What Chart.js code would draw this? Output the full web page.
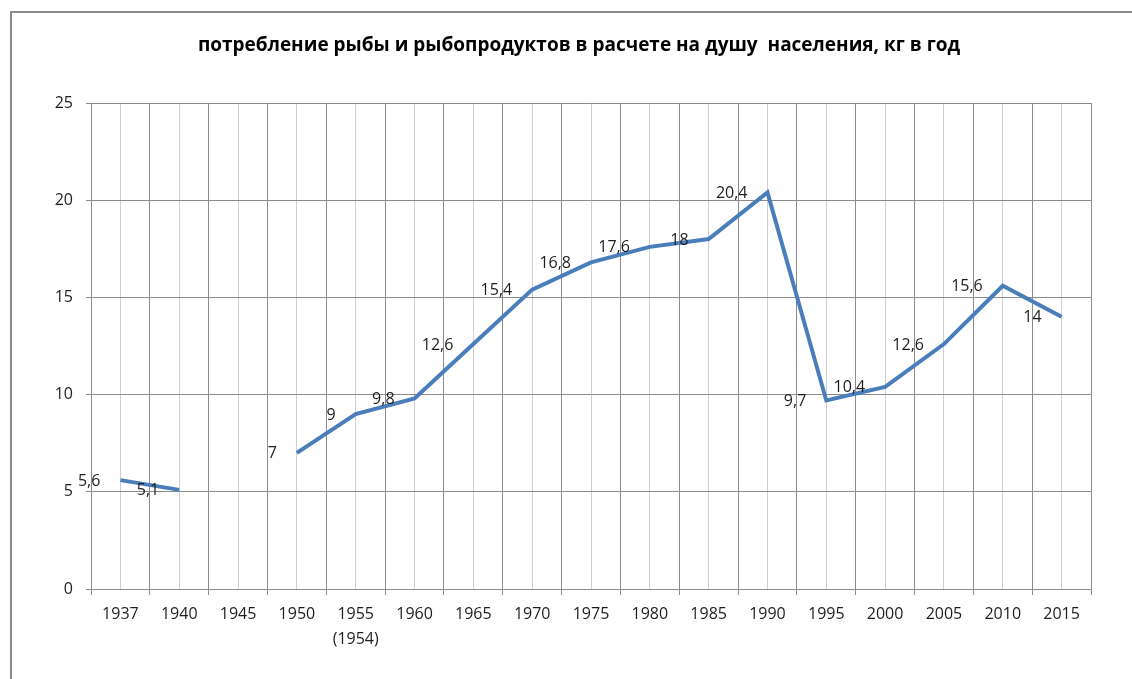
<!DOCTYPE html>
<html>
<head>
<meta charset="utf-8">
<script src="https://cdn.jsdelivr.net/npm/chart.js@4.4.1/dist/chart.umd.min.js"></script>
<style>
html,body{margin:0;padding:0;background:#fff;}
#wrap{position:absolute;left:0;top:0;width:1132px;height:679px;}
</style>
</head>
<body>
<div id="wrap"><canvas id="c" width="1132" height="679"></canvas></div>
<script>
const title = 'потребление рыбы и рыбопродуктов в расчете на душу  населения, кг в год';
const categories = ['1937','1940','1945','1950',['1955','(1954)'],'1960','1965','1970','1975','1980','1985','1990','1995','2000','2005','2010','2015'];
const values = [5.6, 5.1, null, 7, 9, 9.8, 12.6, 15.4, 16.8, 17.6, 18, 20.4, 9.7, 10.4, 12.6, 15.6, 14];
const yTicks = [0, 5, 10, 15, 20, 25];

const FONT = "'Open Sans', 'DejaVu Sans', sans-serif";
const TEXT = '#1e1e1e';

const frame = {
  id: 'frame',
  beforeDraw(chart) {
    const ctx = chart.ctx;
    ctx.save();
    ctx.fillStyle = '#fff';
    ctx.fillRect(0, 0, chart.width, chart.height);
    ctx.strokeStyle = '#8a8a8a';
    ctx.lineWidth = 2;
    ctx.beginPath();
    ctx.moveTo(11, 679);
    ctx.lineTo(11, 12);
    ctx.lineTo(1132, 12);
    ctx.stroke();
    ctx.restore();
  },
  afterDraw(chart) {
    const ctx = chart.ctx;
    ctx.save();
    ctx.fillStyle = '#000';
    ctx.font = "bold 19px " + FONT;
    ctx.textAlign = 'center';
    ctx.textBaseline = 'middle';
    ctx.fillText(title, 579, 46);
    ctx.restore();
  }
};

const dataLabels = {
  id: 'dataLabels',
  afterDatasetsDraw(chart) {
    const ctx = chart.ctx;
    const meta = chart.getDatasetMeta(0);
    ctx.save();
    ctx.fillStyle = TEXT;
    ctx.font = "16px " + FONT;
    ctx.textAlign = 'right';
    ctx.textBaseline = 'middle';
    meta.data.forEach((pt, i) => {
      const v = values[i];
      if (v === null) return;
      ctx.fillText(String(v).replace('.', ','), pt.x - 20, pt.y + 1);
    });
    ctx.restore();
  }
};

new Chart(document.getElementById('c'), {
  type: 'line',
  data: {
    datasets: [{
      data: values.map((v, i) => ({x: i, y: v})),
      borderColor: '#4a7ebb',
      borderWidth: 4,
      pointRadius: 0,
      pointHoverRadius: 0,
      tension: 0,
      spanGaps: false,
      fill: false
    }]
  },
  options: {
    responsive: false,
    animation: false,
    events: [],
    layout: {padding: {top: 103, right: 41, left: 0, bottom: 0}},
    plugins: {legend: {display: false}, tooltip: {enabled: false}, title: {display: false}},
    scales: {
      x: {
        type: 'linear',
        min: -0.5,
        max: categories.length - 0.5,
        afterBuildTicks(scale) {
          const t = [];
          for (let k = 0; k <= categories.length * 2; k++) t.push({value: -0.5 + k * 0.5});
          scale.ticks = t;
        },
        afterFit(scale) { scale.height = 90; },
        ticks: {
          autoSkip: false,
          maxRotation: 0,
          minRotation: 0,
          padding: 7,
          color: TEXT,
          font: {family: FONT, size: 16, lineHeight: 1.55},
          callback(value) {
            return Number.isInteger(value) ? categories[value] : '';
          }
        },
        grid: {
          color: ctx => (ctx.tick && Number.isInteger(ctx.tick.value)) ? '#cfcfcf' : '#8c8c8c',
          tickColor: ctx => (ctx.tick && Number.isInteger(ctx.tick.value)) ? 'rgba(0,0,0,0)' : '#8c8c8c',
          tickLength: 6,
          lineWidth: 1
        },
        border: {color: '#8c8c8c', width: 1}
      },
      y: {
        min: 0,
        max: 25,
        afterBuildTicks(scale) { scale.ticks = yTicks.map(v => ({value: v})); },
        afterFit(scale) { scale.width = 91; },
        ticks: {
          color: TEXT,
          padding: 13,
          font: {family: FONT, size: 16}
        },
        grid: {color: '#8c8c8c', tickColor: '#8c8c8c', tickLength: 5, lineWidth: 1},
        border: {color: '#8c8c8c', width: 1}
      }
    }
  },
  plugins: [frame, dataLabels]
});
</script>
</body>
</html>
